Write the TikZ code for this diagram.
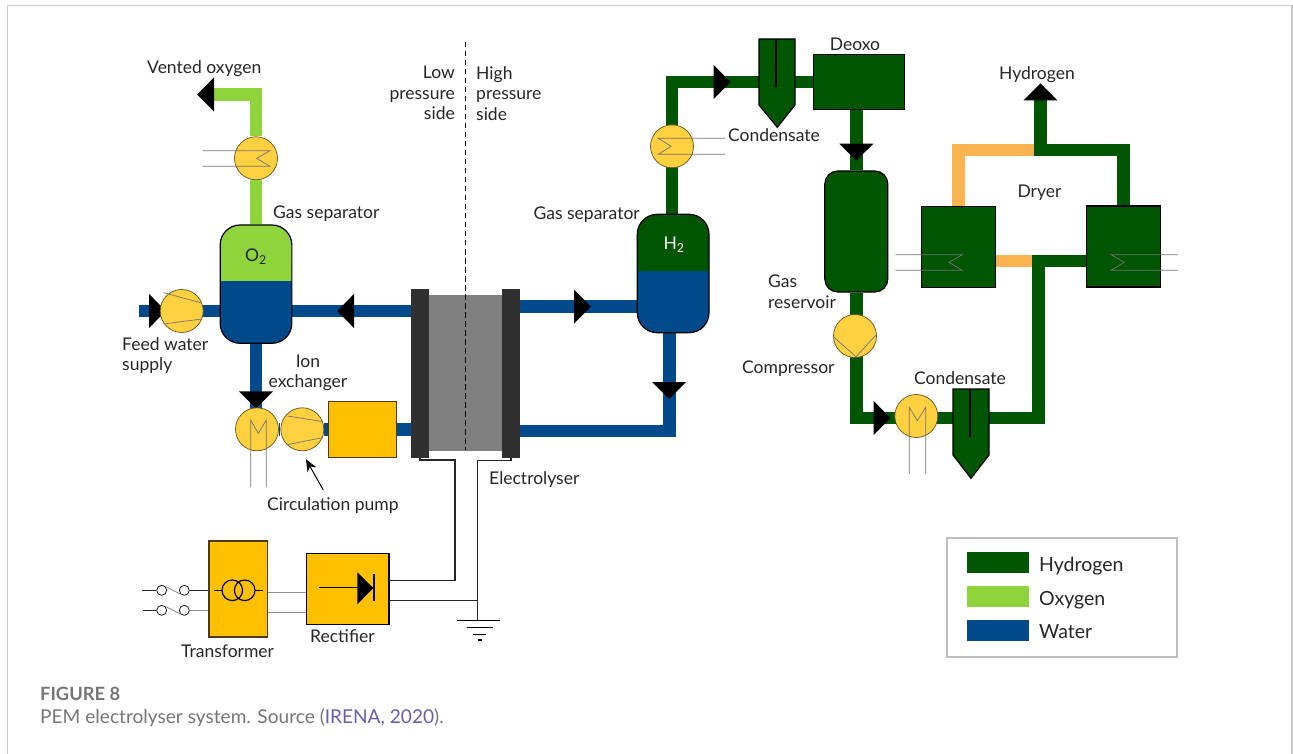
\documentclass[tikz,border=0pt]{standalone}
\usepackage{fontspec}
\setmainfont{Lato}
\usepackage{xcolor}
\usepackage{tikz}
\usetikzlibrary{arrows.meta,backgrounds}

\definecolor{hydcol}{RGB}{0,85,0}
\definecolor{oxycol}{RGB}{143,212,60}
\definecolor{watcol}{RGB}{0,74,139}
\definecolor{drycol}{RGB}{249,180,80}
\definecolor{unitcol}{RGB}{255,208,64}
\definecolor{boxcol}{RGB}{255,192,0}
\definecolor{platecol}{RGB}{48,48,48}
\definecolor{corecol}{RGB}{128,128,128}
\definecolor{capcol}{RGB}{118,118,118}
\definecolor{linkcol}{RGB}{104,94,176}

\tikzset{
    hyd/.style={draw=hydcol, line width=12.4pt},
    oxy/.style={draw=oxycol, line width=12.8pt},
    wat/.style={draw=watcol, line width=12.8pt},
    dri/.style={draw=drycol, line width=12.4pt},
    flow/.style={-{Triangle[width=33pt,length=17pt,black]}},
    unit/.style={shape=circle, fill=unitcol, draw=black!60!unitcol, line width=0.7pt, minimum size=43pt, inner sep=0pt},
    block/.style={shape=rectangle, draw=black, line width=1.2pt, inner sep=0pt},
    vessel/.style={shape=rectangle, draw=black, line width=1.2pt, inner sep=0pt, rounded corners=#1},
    coil/.style={draw=black!55, line width=0.7pt},
    wire/.style={draw=black!85, line width=1.2pt},
    thin wire/.style={draw=black!45, line width=0.9pt},
    txt/.style={inner sep=0pt, text=black!85, font=\fontsize{17.5}{20.6}\selectfont},
    swatch/.style={shape=rectangle, inner sep=0pt, minimum width=62pt, minimum height=21pt},
    sw/.style={shape=circle, draw=black, fill=white, line width=0.7pt, minimum size=10pt, inner sep=0pt},
}

\begin{document}
\begin{tikzpicture}[x=1pt, y=-1pt, line join=miter]
    \useasboundingbox (0,0) rectangle (1293,754);
    \draw [black!22, line width=1.5pt] (7.5,754) -- (7.5,5.5) -- (1292,5.5) -- (1292,754);

    \coordinate (vent) at (197,94.5);
    \coordinate (c1) at (256,94.5);
    \coordinate (feed) at (139.3,311);
    \coordinate (t1) at (166,311);
    \coordinate (t2) at (337,311);
    \coordinate (t3) at (591,306.7);
    \coordinate (t4) at (669.2,399);
    \coordinate (c2a) at (669.2,320);
    \coordinate (c2) at (669.2,431);
    \coordinate (c3) at (672,82);
    \coordinate (t5) at (730.7,82);
    \coordinate (t6) at (856.3,160.7);
    \coordinate (c4) at (856.3,418);
    \coordinate (t7) at (890.7,418);
    \coordinate (c5) at (1038.3,418);
    \coordinate (c6) at (1038.3,261);
    \coordinate (c8) at (958.5,150.3);
    \coordinate (c9) at (1040.5,150.3);
    \coordinate (c10) at (1123.5,150.3);
    \coordinate (c11) at (1040.5,156.5);
    \coordinate (hout) at (1040.5,83.3);
    \coordinate (t8) at (256,408.3);

    \node[vessel=20pt, fill=oxycol, minimum width=71.7pt, minimum height=118.3pt,
        path picture={\fill[watcol, sharp corners] (path picture bounding box.south west) rectangle ([yshift=3pt]path picture bounding box.east);}] (o2) at (256,284.15) {};
    \node[vessel=20pt, fill=hydcol, minimum width=71.7pt, minimum height=118.4pt,
        path picture={\fill[watcol, sharp corners] (path picture bounding box.south west) rectangle ([yshift=2.5pt]path picture bounding box.east);}] (h2) at (673.15,273.5) {};
    \node[vessel=13pt, fill=hydcol, minimum width=63pt, minimum height=121pt] (res) at (856.3,231.5) {};

    \node[unit] (hxo) at (256,158.3) {};
    \node[unit] (pump1) at (181.7,311) {};
    \node[unit] (hx2) at (257,429.3) {};
    \node[unit] (pump2) at (302.3,429.3) {};
    \node[unit] (hxh) at (672,146.3) {};
    \node[unit] (comp) at (855,336) {};
    \node[unit] (hxc) at (916.3,416) {};

    \node[block, fill=boxcol, minimum width=68pt, minimum height=55.6pt, draw=black!70!boxcol] (ionx) at (362.7,429.3) {};
    \node[block, fill=hydcol, minimum width=91pt, minimum height=55.7pt] (deoxo) at (859.2,82) {};
    \node[block, fill=hydcol, minimum width=73.3pt, minimum height=81pt] (dry1) at (958.5,247.2) {};
    \node[block, fill=hydcol, minimum width=73.3pt, minimum height=81pt] (dry2) at (1123.5,246.5) {};

    \node[shape=rectangle, inner sep=0pt, fill=corecol, minimum width=73pt, minimum height=155.7pt] (core) at (465.5,372.85) {};
    \node[shape=rectangle, inner sep=0pt, fill=platecol, minimum width=18pt, minimum height=168.7pt] (plate1) at (420,373.35) {};
    \node[shape=rectangle, inner sep=0pt, fill=platecol, minimum width=18pt, minimum height=168.7pt] (plate2) at (511,373.35) {};

    \begin{scope}[on background layer]
        \draw [oxy] (hxo) -- (o2);
        \draw [oxy, flow] (hxo) -- (c1) -- (vent);
        \draw [wat] ([xshift=-10pt]t1) -- (o2 |- t1);
        \draw [wat, flow] (feed) -- (t1);
        \draw [wat] ([xshift=10pt]t2) -- (o2 |- t2);
        \draw [wat, flow] (plate1 |- t2) -- (t2);
        \draw [wat] ([yshift=10pt]t8) -- (t8 |- hx2);
        \draw [wat, flow] (o2) -- (t8);
        \draw [wat] (hx2) -- (pump2);
        \draw [wat] (pump2) -- (ionx);
        \draw [wat] (ionx) -- (plate1 |- ionx);
        \draw [wat] ([xshift=-10pt]t3) -- (h2 |- t3);
        \draw [wat, flow] (plate2 |- t3) -- (t3);
        \draw [wat] ([yshift=10pt]t4) -- (c2) -- (plate2 |- c2);
        \draw [wat, flow] (c2a) -- (t4);
        \draw [hyd] ([xshift=-10pt]t5) -- (deoxo);
        \draw [hyd, flow] (hxh |- h2) -- (c3) -- (t5);
        \draw [hyd] ([yshift=10pt]t6) -- (res);
        \draw [hyd, flow] (deoxo -| t6) -- (t6);
        \draw [dri] (dry1) -- (c8) -- (c9);
        \draw [dri] (dry1 |- c6) -- (c6);
        \draw [hyd] ([xshift=-10pt]t7) -- (c5) -- (c6) -- (dry2 |- c6);
        \draw [hyd, flow] (res) -- (c4) -- (t7);
        \draw [hyd] (dry2) -- (c10) -- (c9);
        \draw [hyd, flow] (c11) -- (hout);
    \end{scope}

    \draw [black, line width=1.2pt, fill=hydcol] (759,39) -- (795,39) -- (795,105) -- (777.3,127.3) -- (759,105) -- cycle;
    \draw [black, line width=1.5pt] (776,39) -- (776,86.7);
    \draw [black, line width=1.2pt, fill=hydcol] (953,389) -- (989,389) -- (989,455) -- (971,478.3) -- (953,455) -- cycle;
    \draw [black, line width=1.5pt] (970,389) -- (970,436.7);

    \draw [coil] (202.7,150.7) -- (270,150.7) -- (256.7,158.4) -- (270,166.3) -- (202.7,166.3);
    \draw [coil] (725,138.3) -- (658.3,138.3) -- (671,146.3) -- (658.3,154.3) -- (725,154.3);
    \draw [coil] (895.3,254.7) -- (962.3,254.7) -- (949,262.3) -- (962.3,270.3) -- (895.3,270.3);
    \draw [coil] (1177.7,254.7) -- (1111,254.7) -- (1124.3,262.3) -- (1111,270.3) -- (1177.7,270.3);
    \draw [coil] (250.7,487.3) -- (250.7,420) -- (258.3,433.3) -- (266.3,420) -- (266.3,487.3);
    \draw [coil] (909.3,474) -- (909.3,407.3) -- (917.3,420.7) -- (925.7,407.3) -- (925.7,474);
    \draw [coil] (833.3,336.7) -- (856,356.7) -- (876,335);
    \draw [coil] (163.7,292.7) -- (201.7,303);
    \draw [coil] (163.7,324) -- (201.7,319);
    \draw [coil] (287.6,416) -- (322.6,421.6);
    \draw [coil] (285.6,445) -- (322.6,437.6);

    \coordinate (d1) at (465.7,42);
    \coordinate (d2) at (465.7,450);
    \draw [black, line width=1pt, dash pattern=on 5.5pt off 3.5pt] (d1) -- (d2);

    \coordinate (arrow1) at (323.3,490);
    \coordinate (arrow2) at (306,459.3);
    \draw [black, line width=1pt, -{Stealth[length=12pt,width=10pt]}] (arrow1) -- (arrow2);

    \node[block, fill=boxcol, minimum width=58.3pt, minimum height=96pt, draw=black!70!boxcol] (trf) at (238.15,589) {};
    \node[block, fill=boxcol, minimum width=82.3pt, minimum height=70.6pt] (rect) at (347.85,589) {};

    \node[sw] (s1a) at (161.7,590.3) {};
    \node[sw] (s1b) at (184.3,590.3) {};
    \node[sw] (s2a) at (161.7,610.3) {};
    \node[sw] (s2b) at (184.3,610.3) {};
    \coordinate (in1) at (142,590.3);
    \coordinate (in2) at (143,610.3);
    \coordinate (k1) at (287,592);
    \coordinate (k2) at (287,612);
    \draw [wire] (in1) -- (s1a);
    \draw [wire] (in2) -- (s2a);
    \draw [thin wire] (s1a.45) -- (s1b.225);
    \draw [thin wire] (s2a.45) -- (s2b.225);
    \draw [wire] (s1b) -- (trf.west |- s1b);
    \draw [thin wire] (s2b) -- (trf.west |- s2b);
    \draw [thin wire] (trf.east |- k1) -- (rect.west |- k1);
    \draw [thin wire] (trf.east |- k2) -- (rect.west |- k2);

    \draw [black, line width=1.2pt] (232.3,590.3) circle (10.3pt) (244.7,590.3) circle (10.3pt);
    \draw [black, line width=1.2pt] (214.3,590.3) -- (222,590.3) (255,590.3) -- (262.7,590.3);
    \draw [black, line width=1.2pt] (319,587.7) -- (358,587.7);
    \fill [black] (357.3,572.3) -- (373.3,588) -- (357.3,604.3) -- cycle;
    \draw [black, line width=1.5pt] (374,574) -- (374,601);

    \coordinate (j1) at (455,460);
    \coordinate (j2) at (455,580.7);
    \coordinate (j3) at (477.3,460.5);
    \coordinate (j4) at (477.3,600.7);
    \coordinate (gnd) at (477.3,620.7);
    \draw [wire] (plate1.south) |- (j1) -- (j2) -- (rect.east |- j2);
    \draw [wire] (plate2.south) |- (j3) -- (gnd);
    \draw [wire] (rect.east |- j4) -- (j4);
    \draw [black, line width=1.2pt] (457,620.7) -- (500,620.7) (466.7,627.7) -- (492.7,627.7) (473,634.7) -- (486,634.7) (477.7,640) -- (482.3,640);

    \node[txt, anchor=west] (lvent) at (147,69) {Vented oxygen};
    \node[txt, anchor=west] (lsep1) at (273,214) {Gas separator};
    \node[txt, anchor=west, align=left] (lfeed) at (122,355.5) {Feed water\\supply};
    \node[txt, align=center] (lion) at (308,373) {Ion\\exchanger};
    \node[txt, anchor=west] (lpump) at (267,506) {Circulation pump};
    \node[txt, anchor=west] (ltrf) at (181,651) {Transformer};
    \node[txt, anchor=west] (lrect) at (310,636) {Rectifier};
    \node[txt, anchor=west] (lstack) at (489,480) {Electrolyser};
    \node[txt, anchor=east, align=right] (llow) at (455,93) {Low\\pressure\\side};
    \node[txt, anchor=west, align=left] (lhigh) at (476,93.5) {High\\pressure\\side};
    \node[txt, anchor=east] (lsep2) at (640,215) {Gas separator};
    \node[txt, anchor=west] (lcon1) at (728,135) {Condensate};
    \node[txt] (ldeoxo) at (855,44.5) {Deoxo};
    \node[txt, anchor=west] (lhyd) at (999,75) {Hydrogen};
    \node[txt] (ldry) at (1039.5,193) {Dryer};
    \node[txt, anchor=west, align=left] (lres) at (768,292) {Gas\\reservoir};
    \node[txt, anchor=west] (lcomp) at (742,369) {Compressor};
    \node[txt, anchor=west] (lcon2) at (914,378) {Condensate};
    \node[txt] (lo2) at (256,257) {O\textsubscript{2}};
    \node[txt, text=white] (lh2) at (674,245) {H\textsubscript{2}};

    \node[shape=rectangle, draw=black!25, line width=1.2pt, inner sep=0pt, minimum width=230pt, minimum height=119pt] (legend) at (1062,597.5) {};
    \node[swatch, fill=hydcol] (k3) at (998,562.5) {};
    \node[swatch, fill=oxycol] (k4) at (998,596.5) {};
    \node[swatch, fill=watcol] (k5) at (998,630) {};
    \node[txt, anchor=west, font=\fontsize{19.5}{22}\selectfont] (lk3) at (1039,566) {Hydrogen};
    \node[txt, anchor=west, font=\fontsize{19.5}{22}\selectfont] (lk4) at (1039,600) {Oxygen};
    \node[txt, anchor=west, font=\fontsize{19.5}{22}\selectfont] (lk5) at (1039,632) {Water};

    \node[inner sep=0pt, anchor=west, text=capcol, font=\fontsize{18.3}{22}\selectfont\bfseries] (fig) at (40,694) {FIGURE 8};
    \node[inner sep=0pt, anchor=west, text=capcol, font=\fontsize{19.1}{22}\selectfont] (cap) at (40,718) {PEM electrolyser system. Source (\textcolor{linkcol}{IRENA, 2020}).};
\end{tikzpicture}
\end{document}
